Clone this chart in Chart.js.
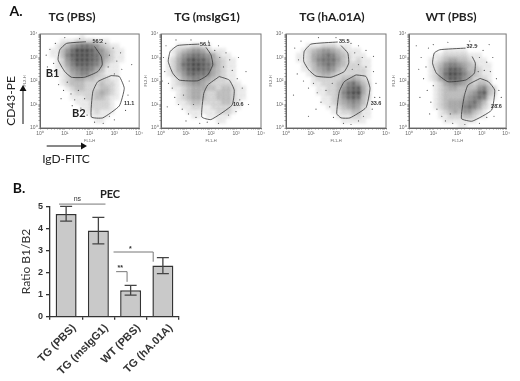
<!DOCTYPE html>
<html>
<head>
<meta charset="utf-8">
<script src="https://cdn.jsdelivr.net/npm/chart.js@4/dist/chart.umd.min.js"></script>
<style>
html, body { margin: 0; padding: 0; background: #fff; }
#page { position: relative; width: 520px; height: 381px; overflow: hidden; }
canvas { position: absolute; }
</style>
</head>
<body>
<div id="page"></div>
<script>
// flow plots: estimated event density per 0.2 decade bin, top row = FL2 10^4
const densityTgPbs = [
  "00000000100000000000",
  "00001112222111000000",
  "00012356776532110000",
  "00113579998653211000",
  "00113689998754211000",
  "00012579998753211000",
  "00012468887642110000",
  "00011356776431110000",
  "00011245664321110000",
  "00001234433222110000",
  "00001233322232210000",
  "00000123322233210000",
  "00000012222343210000",
  "00000011122332110000",
  "00000001112222100000",
  "00000000112222100000",
  "00000000011211100000",
  "00000000001111000000",
  "00000000000110000000",
  "00000000000000000000"
];
const densityTgIgg = [
  "00000000000000000000",
  "00000000000000000000",
  "00011122110000000000",
  "00123455421110000000",
  "00135677654211000000",
  "01246898864321100000",
  "01247899875321100000",
  "01246899874321100000",
  "01235787764321100000",
  "00124566543221100000",
  "00123455432222110000",
  "00112344433233211000",
  "00012344322333211000",
  "00012344322333211000",
  "00011233222233210000",
  "00001122112222110000",
  "00000111111222100000",
  "00000011011111000000",
  "00000000000110000000",
  "00000000000000000000"
];
const densityTgHa = [
  "00000000000000000000",
  "00000000000000000000",
  "00001112221110000000",
  "00012345543211100000",
  "00112456764321110000",
  "00112467775321211000",
  "00012356764322211000",
  "00011345653222221000",
  "00001234432222221000",
  "00000122222334321000",
  "00000112223467532000",
  "00000011223578842000",
  "00000011223689942000",
  "00000001123578732000",
  "00000001123456531000",
  "00000000112345421000",
  "00000000011223311000",
  "00000000001112211000",
  "00000000000111110000",
  "00000000000000000000"
];
const densityWtPbs = [
  "00000000000000000000",
  "00000000000000000000",
  "00000000000000000000",
  "00000001111100000000",
  "00000112222211100000",
  "00001123443321110000",
  "00001235665432111000",
  "00001246887533211000",
  "00001247998643211000",
  "00001246887542221000",
  "00000124565432332000",
  "00000123443333563200",
  "00000123333345783200",
  "00000123333456762100",
  "00000123444567531000",
  "00000123444676421000",
  "00000012343553210000",
  "00000011222332110000",
  "00000001111111000000",
  "00000000001100000000"
];

// stray events away from the clouds, [log10 FL1, log10 FL2], estimated by eye
const strayTgPbs = [[0.25,3.1],[0.4,3.35],[0.55,2.75],[0.3,2.6],[0.62,3.6],[0.5,2.2],[0.75,1.85],[0.95,1.6],[1.1,1.95],[1.25,1.45],[0.85,1.25],[1.4,1.2],[1.55,1.6],[1.3,0.95],[1.65,0.85],[1.8,1.25],[1.9,0.55],[2.2,0.25],[2.55,0.2],[2.8,0.5],[3.0,0.35],[3.45,0.75],[3.55,1.4],[3.6,2.0],[3.3,2.5],[3.1,2.85],[2.8,3.1],[2.95,3.4],[2.65,3.6],[3.25,3.2],[2.4,3.75],[1.6,3.8],[1.0,3.85],[3.7,2.7],[2.75,2.6],[3.0,2.3]];
const strayTgIgg = [[0.1,3.0],[0.15,2.4],[0.2,3.5],[0.3,1.9],[0.45,1.7],[0.55,1.3],[0.7,1.0],[0.9,1.4],[0.85,0.8],[1.1,0.6],[1.3,1.0],[1.4,0.45],[1.55,0.2],[1.85,0.25],[2.3,0.2],[2.7,0.55],[3.0,0.7],[3.15,1.2],[3.25,1.7],[3.05,2.1],[2.85,2.45],[2.5,2.6],[2.35,3.0],[2.6,3.2],[2.3,3.5],[2.75,2.9],[1.9,3.7],[1.2,3.75],[0.6,3.75],[3.4,2.4],[3.5,1.0],[2.15,3.3],[0.25,0.9],[3.1,3.0],[0.05,2.0],[1.0,0.3]];
const strayTgHa = [[0.35,3.4],[0.5,2.9],[0.45,2.3],[0.6,3.7],[0.7,2.0],[0.9,1.7],[1.1,1.9],[1.25,1.5],[1.4,1.1],[1.6,1.6],[1.75,0.9],[1.9,0.45],[1.85,1.9],[1.2,0.8],[2.3,0.2],[2.6,0.15],[2.9,0.3],[3.1,0.5],[3.45,0.8],[3.55,1.3],[3.6,1.9],[3.5,2.4],[3.2,2.6],[2.9,2.7],[3.05,3.0],[2.75,3.2],[3.2,3.3],[2.6,3.6],[2.9,3.5],[3.5,3.05],[1.3,3.85],[2.0,3.85],[0.3,1.4],[0.9,0.5],[2.65,2.5],[3.75,1.3]];
const strayWtPbs = [[0.5,3.0],[0.7,2.6],[0.6,2.1],[0.8,3.4],[0.75,1.6],[0.9,1.1],[1.0,1.8],[1.15,0.8],[1.35,0.5],[1.5,0.3],[1.8,0.2],[1.7,0.6],[2.3,0.15],[2.9,0.2],[3.2,0.45],[3.5,0.5],[3.65,1.0],[3.7,1.6],[3.6,2.1],[3.35,2.4],[3.1,2.45],[3.2,2.8],[2.9,3.0],[3.05,3.3],[2.8,3.5],[3.45,3.0],[2.5,3.7],[1.6,3.65],[1.0,3.55],[0.4,2.5],[0.45,1.3],[3.8,1.3],[2.85,2.4],[0.85,0.6],[3.3,3.55],[0.3,3.5]];

// gates, [log10 FL1, log10 FL2]
const gateB1TgPbs = [[1.85,3.67],[1.07,3.6],[0.8,3.33],[0.73,2.9],[1.0,2.4],[1.27,2.16],[1.8,2.16],[2.33,2.4],[2.51,2.69],[2.47,3.04],[2.2,3.47]];
const gateB2TgPbs = [[2.87,2.23],[2.33,1.97],[2.13,1.54],[2.07,0.47],[2.53,0.43],[3.2,0.94],[3.4,1.69],[3.2,2.19],[2.87,2.23]];
const gateB1TgIgg = [[1.53,3.57],[0.67,3.51],[0.37,3.26],[0.29,2.83],[0.47,2.33],[0.73,2.04],[1.47,2.01],[1.87,2.26],[2.07,2.69],[2.0,3.11],[1.8,3.43]];
const gateB2TgIgg = [[2.33,2.19],[1.87,1.83],[1.71,1.47],[1.63,0.47],[2.0,0.36],[2.84,0.97],[2.93,1.61],[2.73,2.04],[2.33,2.19]];
const gateB1TgHa = [[2.07,3.66],[1.0,3.57],[0.73,3.26],[0.71,2.83],[0.91,2.47],[1.2,2.21],[1.8,2.16],[2.33,2.4],[2.51,2.76],[2.47,3.19],[2.2,3.51]];
const gateB2TgHa = [[2.8,2.26],[2.33,1.97],[2.13,1.54],[2.03,0.61],[2.2,0.43],[2.56,0.43],[3.2,0.87],[3.36,1.69],[3.2,2.19],[2.8,2.26]];
const gateB1WtPbs = [[2.33,3.4],[1.27,3.33],[1.04,3.19],[0.97,2.76],[1.13,2.33],[1.6,1.97],[2.33,2.04],[2.69,2.33],[2.73,2.76],[2.6,3.04]];
const gateB2WtPbs = [[2.93,2.11],[2.43,1.83],[2.27,1.33],[2.16,0.4],[2.6,0.29],[3.4,0.76],[3.53,1.61],[3.27,1.97],[2.93,2.11]];

const panelNames = ["TG (PBS)", "TG (msIgG1)", "TG (hA.01A)", "WT (PBS)"];
const b1Percent = ["56.2", "56.1", "35.5", "32.5"];
const b2Percent = ["11.1", "10.6", "33.6", "28.6"];

// bar chart
const barLabels = ["TG (PBS)", "TG (msIgG1)", "WT (PBS)", "TG (hA.01A)"];
const barValues = [4.65, 3.9, 1.2, 2.32];
const errLow = [4.33, 3.3, 0.98, 1.95];
const errHigh = [5.0, 4.5, 1.42, 2.68];

const labelFont = "Lato, 'Open Sans', sans-serif";
const plainFont = "'Liberation Sans', Arial, sans-serif";

function addCanvas(left, top, w, h) {
  const c = document.createElement("canvas");
  c.width = w; c.height = h;
  c.style.left = left + "px"; c.style.top = top + "px";
  c.style.width = w + "px"; c.style.height = h + "px";
  document.getElementById("page").appendChild(c);
  return c;
}

const toPoints = g => g.map(p => ({ x: Math.pow(10, p[0]), y: Math.pow(10, p[1]) }));

function densityPoints(rows) {
  const pts = [], cols = [];
  rows.forEach((row, r) => {
    row.split("").forEach((d, c) => {
      if (d === "0") return;
      pts.push({ x: Math.pow(10, (c + 0.5) / 5), y: Math.pow(10, 4 - (r + 0.5) / 5) });
      cols.push("rgba(20,20,20," + (Number(d) / 9 * 0.82).toFixed(3) + ")");
    });
  });
  return { pts, cols };
}

const superDigits = { 1: "10\u2070", 10: "10\u00b9", 100: "10\u00b2", 1000: "10\u00b3", 10000: "10\u2074" };

function logAxis(title, isX) {
  return {
    type: "logarithmic", min: 1, max: 10000,
    afterFit: s => { if (isX) s.height = 15; else s.width = 18; },
    grid: { drawOnChartArea: false, color: "#555", lineWidth: 0.6, tickLength: 1.5 },
    border: { color: "#555", width: 1 },
    ticks: {
      autoSkip: false, maxRotation: 0, minRotation: 0, padding: 1, color: "#666",
      font: { family: plainFont, size: 5 },
      callback: v => superDigits[v] || ""
    },
    title: { display: true, text: title, color: "#666", font: { family: plainFont, size: 4 }, padding: 0 }
  };
}

// soft density cloud, frame on top/right of the plot, percent labels and panel title
const flowExtras = {
  id: "flowExtras",
  beforeDatasetDraw(chart, args) {
    if (args.index === 2) chart.ctx.filter = "blur(1.6px)";
  },
  afterDatasetDraw(chart, args) {
    if (args.index === 2) chart.ctx.filter = "none";
  },
  afterDatasetsDraw(chart, args, o) {
    const { ctx, chartArea: a, scales } = chart;
    ctx.save();
    ctx.strokeStyle = "#777";
    ctx.lineWidth = 1;
    ctx.strokeRect(a.left, a.top, a.right - a.left, a.bottom - a.top);
    ctx.textAlign = "center";
    ctx.textBaseline = "middle";
    (o.notes || []).forEach(n => {
      ctx.font = "bold " + n.size + "px " + n.family;
      ctx.fillStyle = n.color;
      ctx.fillText(n.text, scales.x.getPixelForValue(Math.pow(10, n.at[0])), scales.y.getPixelForValue(Math.pow(10, n.at[1])));
    });
    ctx.fillStyle = "#222";
    ctx.font = "bold 12px " + labelFont;
    ctx.fillText(o.title, o.titleX, 17);
    ctx.restore();
  }
};

function flowPanel(i, left, w, padLeft, titleX, density, stray, gate1, gate2, at1, at2, extra) {
  const d = densityPoints(density);
  const notes = [
    { text: b1Percent[i], at: at1, size: 5.5, color: "#333", family: plainFont },
    { text: b2Percent[i], at: at2, size: 5.5, color: "#333", family: plainFont }
  ].concat(extra || []);
  const gateStyle = { showLine: true, pointRadius: 0, borderColor: "#333", borderWidth: 0.8, fill: false, tension: 0.15 };
  return new Chart(addCanvas(left, 0, w, 170), {
    type: "scatter",
    data: {
      datasets: [
        Object.assign({ data: toPoints(gate1) }, gateStyle),
        Object.assign({ data: toPoints(gate2) }, gateStyle),
        { data: d.pts, pointStyle: "rect", pointRadius: 3.56, pointBorderWidth: 0, backgroundColor: d.cols, borderColor: "transparent", order: 5 },
        { data: toPoints(stray), pointRadius: 0.6, pointBorderWidth: 0, backgroundColor: "#555", borderColor: "transparent", order: 4 }
      ]
    },
    options: {
      responsive: false, animation: false,
      layout: { padding: { left: padLeft, right: w - padLeft - 118, bottom: 27, top: 34 } },
      scales: { x: logAxis("FL1-H", true), y: logAxis("FL2-H", false) },
      plugins: {
        legend: { display: false }, tooltip: { enabled: false }, title: { display: false },
        flowExtras: { notes, title: panelNames[i], titleX: titleX - left }
      }
    },
    plugins: [flowExtras]
  });
}

// panel A letter, axis names and arrows sit in the first panel's canvas
const pageNotes = {
  id: "pageNotes",
  afterDraw(chart) {
    const ctx = chart.ctx;
    ctx.save();
    ctx.fillStyle = "#111"; ctx.strokeStyle = "#111"; ctx.lineWidth = 1;
    ctx.textAlign = "center"; ctx.textBaseline = "middle";
    ctx.font = "bold 14px " + labelFont;
    ctx.fillText("A.", 16, 11);
    ctx.font = "12px " + labelFont;
    ctx.fillStyle = "#222";
    ctx.fillText("IgD-FITC", 66, 159);
    ctx.save();
    ctx.translate(11, 101);
    ctx.rotate(-Math.PI / 2);
    ctx.fillText("CD43-PE", 0, 0);
    ctx.restore();
    ctx.beginPath();
    ctx.moveTo(23, 124); ctx.lineTo(23, 90);
    ctx.moveTo(46.7, 146); ctx.lineTo(83, 146);
    ctx.stroke();
    ctx.fillStyle = "#111";
    ctx.beginPath();
    ctx.moveTo(23, 85); ctx.lineTo(19.5, 91); ctx.lineTo(26.5, 91); ctx.closePath();
    ctx.moveTo(87, 146); ctx.lineTo(81, 142.5); ctx.lineTo(81, 149.5); ctx.closePath();
    ctx.fill();
    ctx.restore();
  }
};

const b1b2 = [
  { text: "B1", at: [0.51, 2.33], size: 11, color: "#222", family: labelFont },
  { text: "B2", at: [1.57, 0.6], size: 11, color: "#222", family: labelFont }
];

const c1 = flowPanel(0, 0, 144, 22, 72, densityTgPbs, strayTgPbs, gateB1TgPbs, gateB2TgPbs, [2.33, 3.69], [3.6, 1.04], b1b2);
flowPanel(1, 143, 128, 0, 207, densityTgIgg, strayTgIgg, gateB1TgIgg, gateB2TgIgg, [1.77, 3.54], [3.09, 1.01]);
flowPanel(2, 268, 128, 0, 332, densityTgHa, strayTgHa, gateB1TgHa, gateB2TgHa, [2.33, 3.69], [3.6, 1.04]);
flowPanel(3, 391, 120, 0, 451, densityWtPbs, strayWtPbs, gateB1WtPbs, gateB2WtPbs, [2.59, 3.46], [3.6, 0.93]);
pageNotes.afterDraw(c1);

// brackets over the bars, x in bar index units, y in ratio units
const brackets = [
  { from: -0.22, to: 1.22, y: 5.1, drop: null, text: "ns", textAt: [0.35, 5.33] },
  { from: 1.47, to: 2.7, y: 2.93, drop: 2.49, text: "*", textAt: [1.99, 3.08] },
  { from: 1.55, to: 1.89, y: 2.04, drop: 1.58, text: "**", textAt: [1.68, 2.2] }
];

const barExtras = {
  id: "barExtras",
  afterDatasetsDraw(chart) {
    const { ctx, scales: { x, y } } = chart;
    ctx.save();
    ctx.strokeStyle = "#444";
    ctx.lineWidth = 1.3;
    barValues.forEach((v, i) => {
      const cx = x.getPixelForValue(i);
      const lo = y.getPixelForValue(errLow[i]), hi = y.getPixelForValue(errHigh[i]);
      ctx.beginPath();
      ctx.moveTo(cx, lo); ctx.lineTo(cx, hi);
      ctx.moveTo(cx - 6, lo); ctx.lineTo(cx + 6, lo);
      ctx.moveTo(cx - 6, hi); ctx.lineTo(cx + 6, hi);
      ctx.stroke();
    });
    ctx.strokeStyle = "#777";
    ctx.lineWidth = 1;
    ctx.fillStyle = "#333";
    ctx.textAlign = "center";
    ctx.textBaseline = "middle";
    brackets.forEach(b => {
      const x0 = x.getPixelForValue(b.from), x1 = x.getPixelForValue(b.to), yy = y.getPixelForValue(b.y);
      ctx.beginPath();
      ctx.moveTo(x0, yy); ctx.lineTo(x1, yy);
      if (b.drop !== null) ctx.lineTo(x1, y.getPixelForValue(b.drop));
      ctx.stroke();
      ctx.font = (b.text === "ns" ? "" : "bold ") + "7px " + plainFont;
      ctx.fillText(b.text, x.getPixelForValue(b.textAt[0]), y.getPixelForValue(b.textAt[1]));
    });
    ctx.fillStyle = "#111";
    ctx.font = "bold 14px " + labelFont;
    ctx.fillText("B.", 19, 18);
    ctx.fillStyle = "#222";
    ctx.font = "bold 11px " + labelFont;
    ctx.fillText("PEC", 110, 24);
    ctx.restore();
  }
};

new Chart(addCanvas(0, 170, 220, 211), {
  type: "bar",
  data: {
    labels: barLabels,
    datasets: [{
      data: barValues,
      backgroundColor: "#c9c9c9",
      borderColor: "#333",
      borderWidth: 1.5,
      barPercentage: 0.65,
      categoryPercentage: 1
    }]
  },
  options: {
    responsive: false, animation: false,
    layout: { padding: { left: 0, right: 41, top: 36.3, bottom: 0 } },
    scales: {
      x: {
        afterFit: s => { s.height = 64.3; },
        grid: { drawOnChartArea: false, color: "#333", lineWidth: 1.3, tickLength: 3 },
        border: { color: "#333", width: 1.3 },
        ticks: { minRotation: 45, maxRotation: 45, labelOffset: 8, padding: 2, color: "#333", font: { family: plainFont, size: 11, weight: "bold" } }
      },
      y: {
        min: 0, max: 5,
        afterFit: s => { s.width = 50; },
        grid: { drawOnChartArea: false, color: "#333", lineWidth: 1.3, tickLength: 4 },
        border: { color: "#333", width: 1.3 },
        ticks: { stepSize: 1, padding: 3, color: "#333", font: { family: plainFont, size: 9, weight: "bold" } },
        title: { display: true, text: "Ratio B1/B2", color: "#333", font: { family: labelFont, size: 12 }, padding: { top: 19, bottom: 0 } }
      }
    },
    plugins: {
      legend: { display: false }, tooltip: { enabled: false }, title: { display: false }
    }
  },
  plugins: [barExtras]
});
</script>
</body>
</html>
